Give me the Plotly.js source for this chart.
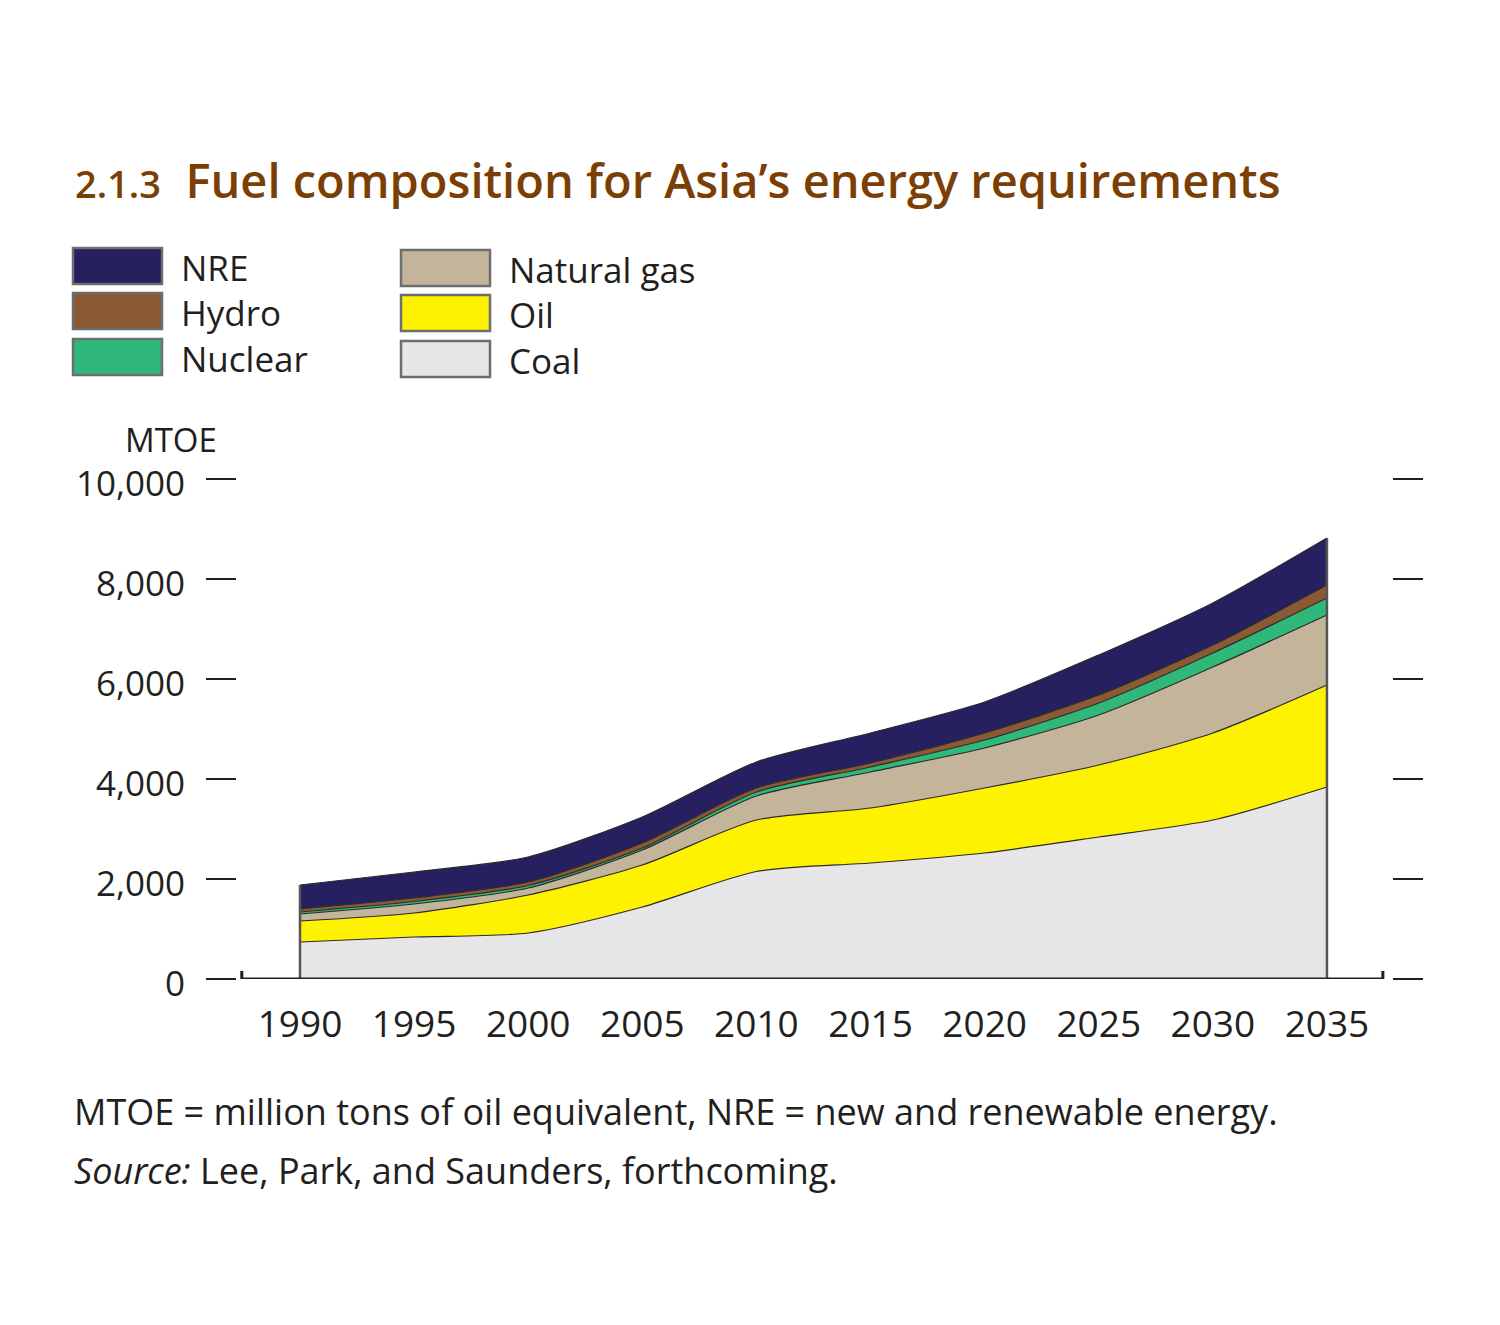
<!DOCTYPE html>
<html>
<head>
<meta charset="utf-8">
<script src="https://cdn.plot.ly/plotly-3.0.1.min.js"></script>
<style>html,body{margin:0;padding:0;background:#fff;}#chart{width:1500px;height:1325px;}</style>
</head>
<body>
<div id="chart"></div>
<script>
// ---- data (MTOE) ----
const years   = [1990, 1995, 2000, 2005, 2010, 2015, 2020, 2025, 2030, 2035];
const coal    = [740, 840, 920, 1440, 2150, 2320, 2520, 2840, 3180, 3840];
const oil     = [420, 480, 760, 840, 1030, 1100, 1300, 1440, 1740, 2040];
const natGas  = [140, 180, 140, 300, 480, 720, 800, 1000, 1320, 1400];
const nuclear = [40, 50, 50, 40, 80, 100, 160, 240, 280, 340];
const hydro   = [60, 70, 70, 100, 80, 80, 140, 160, 160, 260];
const nre     = [480, 520, 500, 520, 520, 600, 620, 800, 840, 940];
const yTicks  = [0, 2000, 4000, 6000, 8000, 10000];
const yTickText = ['0', '2,000', '4,000', '6,000', '8,000', '10,000'];

const seriesNames  = ['Coal', 'Oil', 'Natural gas', 'Nuclear', 'Hydro', 'NRE'];
const seriesValues = [coal, oil, natGas, nuclear, hydro, nre];
const seriesColors = ['#e6e6e8', '#fff200', '#c3b49a', '#2fb879', '#8a5a35', '#261f60'];

const FONT = 'Open Sans, Noto Sans, sans-serif';
const TXT = '#231f20';

const traces = seriesNames.map((name, i) => ({
  type: 'scatter', mode: 'lines', name: name,
  x: years, y: seriesValues[i], stackgroup: 'one',
  line: {color: '#2a2a2a', width: 1.2, shape: 'spline', smoothing: 0.7},
  fillcolor: seriesColors[i], hoverinfo: 'skip', showlegend: false
}));

// total for edge lines
const totals = years.map((_, j) => seriesValues.reduce((s, arr) => s + arr[j], 0));
const last = years.length - 1;
traces.push({type: 'scatter', mode: 'lines', x: [years[0], years[0]], y: [0, totals[0]],
  line: {color: '#555', width: 2.5}, hoverinfo: 'skip', showlegend: false});
traces.push({type: 'scatter', mode: 'lines', x: [years[last], years[last]], y: [0, totals[last]],
  line: {color: '#555', width: 2.5}, hoverinfo: 'skip', showlegend: false});
// right-side tick axis dummy
traces.push({type: 'scatter', mode: 'lines', x: [years[0]], y: [0], yaxis: 'y2',
  hoverinfo: 'skip', showlegend: false, line: {width: 0}});

const W = 1500, H = 1325;
const mL = 237, mR = 108, mT = 479, mB = 346;
const pw = W - mL - mR, ph = H - mT - mB;
function px(x) { return (x - mL) / pw; }
function py(y) { return (H - mB - y) / ph; }

// ---- manual legend ----
const legendCols = [['NRE', 'Hydro', 'Nuclear'], ['Natural gas', 'Oil', 'Coal']];
const colX = [73, 401];
const rowY = [248, 293, 339];
const shapes = [];
const annotations = [];
legendCols.forEach((col, c) => {
  col.forEach((name, r) => {
    const idx = seriesNames.indexOf(name);
    const y0 = rowY[r] + (c === 1 ? 2 : 0);
    shapes.push({type: 'rect', xref: 'paper', yref: 'paper',
      x0: px(colX[c]), x1: px(colX[c] + 89), y0: py(y0), y1: py(y0 + 36),
      fillcolor: seriesColors[idx], line: {color: '#6d6e70', width: 2.5}});
    annotations.push({xref: 'paper', yref: 'paper', x: px(colX[c] + 106), y: py(y0 + 19),
      xanchor: 'left', yanchor: 'middle', showarrow: false, text: name,
      font: {family: FONT, size: 35, color: TXT}});
  });
});

// bottom axis line with end ticks
shapes.push({type: 'path', xref: 'x', yref: 'y', layer: 'above',
  path: 'M1987.45,160 L1987.45,0 L2037.45,0 L2037.45,160',
  line: {color: TXT, width: 3}});

// title
annotations.push({xref: 'paper', yref: 'paper', x: px(73), y: py(180), xanchor: 'left', yanchor: 'middle',
  showarrow: false,
  text: '<span style="font-size:38px">2.1.3</span>  Fuel composition for Asia’s energy requirements',
  font: {family: FONT, size: 47, color: '#7b3f06', weight: 600}});
// y unit
annotations.push({xref: 'paper', yref: 'paper', x: px(171), y: py(440), xanchor: 'center', yanchor: 'middle',
  showarrow: false, text: 'MTOE', font: {family: FONT, size: 33, color: TXT}});
// notes
annotations.push({xref: 'paper', yref: 'paper', x: px(72), y: py(1111), xanchor: 'left', yanchor: 'middle',
  showarrow: false, text: 'MTOE = million tons of oil equivalent, NRE = new and renewable energy.',
  font: {family: FONT, size: 36, color: TXT}});
annotations.push({xref: 'paper', yref: 'paper', x: px(72), y: py(1170), xanchor: 'left', yanchor: 'middle',
  showarrow: false, text: '<i>Source:</i> Lee, Park, and Saunders, forthcoming.',
  font: {family: FONT, size: 36, color: TXT}});

const layout = {
  width: W, height: H,
  margin: {l: mL, r: mR, t: mT, b: mB, pad: 0},
  paper_bgcolor: '#fff', plot_bgcolor: '#fff',
  showlegend: false,
  font: {family: FONT, color: TXT},
  xaxis: {range: [1987.24, 2037.85], tickvals: years, ticktext: years.map(String),
    showgrid: false, zeroline: false, showline: false, ticks: '',
    tickfont: {family: FONT, size: 37, color: TXT}, ticklabelstandoff: 20, fixedrange: true},
  yaxis: {range: [0, 10000], tickvals: yTicks, ticktext: yTickText, showgrid: false, zeroline: false,
    showline: false, ticks: 'outside', ticklen: 30, tickwidth: 2.5, tickcolor: TXT,
    tickfont: {family: FONT, size: 35, color: TXT}, ticklabelstandoff: 14, ticklabelshift: 5,
    fixedrange: true},
  yaxis2: {range: [0, 10000], overlaying: 'y', side: 'right', tickvals: yTicks, showticklabels: false,
    showgrid: false, zeroline: false, showline: false, ticks: 'outside', ticklen: 30, tickwidth: 2.5,
    tickcolor: TXT, fixedrange: true},
  shapes: shapes,
  annotations: annotations
};

Plotly.newPlot('chart', traces, layout, {staticPlot: true, displayModeBar: false});
</script>
</body>
</html>
